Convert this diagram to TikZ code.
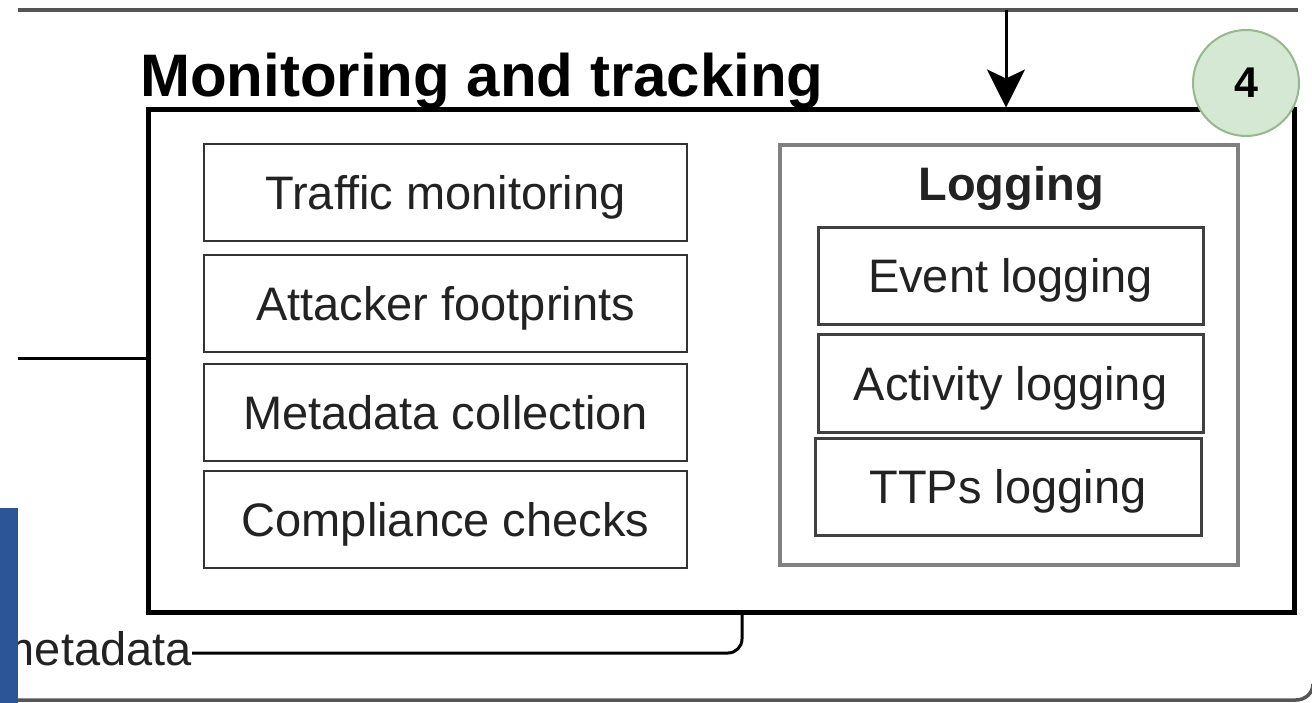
\documentclass[tikz,border=0pt]{standalone}
\usepackage{fontspec}
\setmainfont{Liberation Sans}
\usetikzlibrary{arrows.meta}
\definecolor{boxline}{HTML}{333333}
\definecolor{logline}{HTML}{808080}
\definecolor{inline}{HTML}{404040}
\definecolor{txt}{HTML}{222222}
\definecolor{numfill}{HTML}{D5E8D4}
\definecolor{numline}{HTML}{94B98A}
\definecolor{sideblue}{HTML}{2B5597}
\definecolor{frameline}{HTML}{555555}
\tikzset{
  itembox/.style={draw=boxline, line width=2.5pt, fill=white, minimum width=483pt, minimum height=97pt, inner sep=0pt, text=txt, text height=40pt, text depth=6pt, font=\fontsize{47}{56}\selectfont},
  logbox/.style={draw=inline, line width=3pt, fill=white, minimum width=385pt, minimum height=97pt, inner sep=0pt, text=txt, text height=40pt, text depth=7pt, font=\fontsize{47}{56}\selectfont},
  groupbox/.style={draw=logline, line width=3.5pt, fill=white, inner sep=0pt},
  mainframe/.style={draw=black, line width=5pt, fill=white, inner sep=0pt},
  conn/.style={draw=black, line width=3pt},
  outerline/.style={draw=frameline, line width=3.5pt},
}
\begin{document}
\begin{tikzpicture}[x=1pt,y=-1pt]
\useasboundingbox (0,0) rectangle (1312,703);
% outer container edges
\coordinate (otl) at (18,10);
\coordinate (otr) at (1298,10);
\coordinate (obl) at (18,700);
\coordinate (obr) at (1313,684);
\draw[outerline] (otl) -- (otr);
\draw[outerline] (obl) -- (1296,700) to[out=0,in=-90] (obr);
% main frame
\node[mainframe, minimum width=1146pt, minimum height=502pt] (mainbox) at (721,361) {};
\node[anchor=base west, font=\fontsize{60}{70}\selectfont\bfseries, inner sep=0pt] (title) at (140,97) {Monitoring and tracking};
% left items
\node[itembox] (traffic) at (445.5,192.5) {Traffic monitoring};
\node[itembox] (attacker) at (445.5,303.5) {Attacker footprints};
\node[itembox] (metacol) at (445.5,412.5) {Metadata collection};
\node[itembox] (compl) at (445.5,519.5) {Compliance checks};
% logging group
\node[groupbox, minimum width=458pt, minimum height=420pt] (loggroup) at (1009,355) {};
\node[anchor=base, font=\fontsize{47}{56}\selectfont\bfseries, text=txt, inner sep=0pt] (logtitle) at (1011,201) {Logging};
\node[logbox] (event) at (1010.5,276.5) {Event logging};
\node[logbox] (activity) at (1010.5,383.5) {Activity logging};
\node[logbox, minimum width=386pt] (ttps) at (1008,486.5) {TTPs logging};
% number badge
\node[circle, fill=numfill, draw=numline, line width=2pt, minimum size=106pt, inner sep=0pt, font=\fontsize{43}{50}\selectfont\bfseries] (num) at (1246,83) {4};
% incoming arrow
\coordinate (arrtop) at (1006,10);
\draw[conn, -{Stealth[length=38pt,width=38pt,inset=9pt]}] (arrtop) -- (arrtop |- mainbox.north);
% left connector
\coordinate (lin) at (18,358);
\draw[conn] (lin) -- (lin -| mainbox.west);
% metadata connector
\node[anchor=base east, inner sep=0pt, text=txt, font=\fontsize{47}{56}\selectfont] (meta) at (192,665) {metadata};
\coordinate (mx) at (742,0);
\draw[conn, rounded corners=14pt] ([yshift=12pt]meta.base east) -| (mainbox.south -| mx);
% side blue bar
\fill[sideblue] (0,508) rectangle (17.5,703);
\end{tikzpicture}
\end{document}
